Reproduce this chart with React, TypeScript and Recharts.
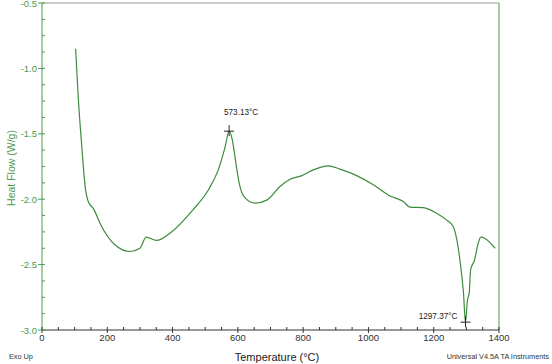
import { LineChart, Line, XAxis, YAxis, ReferenceLine, ReferenceDot } from "recharts"

// temperature (°C) and heat flow (W/g)
const temps = [
  103, 111, 122, 132, 142, 157, 183, 224, 270, 300, 319, 351, 392, 463, 509.5, 540, 561, 573.13, 583, 594,
  604, 622, 653, 690, 729, 760, 796, 831, 877, 913, 964, 1015, 1066, 1107, 1127, 1168, 1209, 1240, 1260,
  1270, 1281, 1291, 1297.37, 1303, 1309, 1313, 1325, 1335, 1344, 1357, 1388,
]
const heatFlow = [
  -0.85, -1.22, -1.6, -1.9, -2.02, -2.07, -2.21, -2.35, -2.4, -2.375, -2.29, -2.315, -2.26, -2.08, -1.93,
  -1.776, -1.6, -1.48, -1.546, -1.724, -1.877, -1.99, -2.03, -2.005, -1.903, -1.847, -1.82, -1.776, -1.745,
  -1.77, -1.82, -1.89, -1.975, -2.018, -2.06, -2.064, -2.107, -2.16, -2.21, -2.3, -2.48, -2.71, -2.94, -2.78,
  -2.71, -2.54, -2.465, -2.35, -2.29, -2.3, -2.375,
]

const xTicks = Array.from({ length: 29 }, (_, i) => i * 50)
const yTicks = Array.from({ length: 21 }, (_, i) => -3 + i * 0.125)
const xMajor = [0, 200, 400, 600, 800, 1000, 1200, 1400]
const yMajor = [-3, -2.5, -2, -1.5, -1, -0.5]

const peaks = [
  { t: 573.13, hf: -1.48, label: "573.13°C", side: "above" },
  { t: 1297.37, hf: -2.94, label: "1297.37°C", side: "left" },
]

const data = temps.map((t, i) => ({ t, hf: heatFlow[i] }))

const font = "'Liberation Sans', Arial, sans-serif"
const green = "#4f9a4f"
const lineGreen = "#3d8b3d"

function XTick({ x, y, payload }: any) {
  const major = xMajor.includes(payload.value)
  return (
    <g>
      <line x1={x} x2={x} y1={y - 3} y2={y + (major ? 3 : 0)} stroke="#333" />
      {major && (
        <text x={x} y={y + 11} textAnchor="middle" fontSize={9.5} fontFamily={font} fill="#333">
          {payload.value}
        </text>
      )}
    </g>
  )
}

function YTick({ x, y, payload }: any) {
  const major = yMajor.some((v) => Math.abs(v - payload.value) < 1e-6)
  return (
    <g>
      <line x1={x - (major ? 4 : 0)} x2={x + 3} y1={y} y2={y} stroke={green} />
      {major && (
        <text x={x - 5} y={y + 3.5} textAnchor="end" fontSize={9.5} fontFamily={font} fill={green}>
          {payload.value.toFixed(1)}
        </text>
      )}
    </g>
  )
}

function Cross({ cx, cy, label, side }: any) {
  return (
    <g>
      <line x1={cx - 5} x2={cx + 5} y1={cy} y2={cy} stroke="#222" />
      <line x1={cx} x2={cx} y1={cy - 6} y2={cy + 5} stroke="#222" />
      {side === "above" ? (
        <text x={cx + 12} y={cy - 16} textAnchor="middle" fontSize={8.2} fontFamily={font} fill="#222">
          {label}
        </text>
      ) : (
        <text x={cx - 8} y={cy - 3} textAnchor="end" fontSize={8.2} fontFamily={font} fill="#222">
          {label}
        </text>
      )}
    </g>
  )
}

export default function App() {
  return (
    <div style={{ position: "absolute", left: 0, top: 0, width: 552, height: 364, background: "#fff" }}>
      <LineChart width={552} height={364} data={data} margin={{ top: 3, right: 53, left: 0, bottom: 0 }}>
        <XAxis
          dataKey="t"
          type="number"
          domain={[0, 1400]}
          ticks={xTicks}
          interval={0}
          height={34}
          stroke="#333"
          tickLine={false}
          tickSize={0}
          tickMargin={0}
          tick={<XTick />}
        />
        <YAxis
          type="number"
          domain={[-3, -0.5]}
          ticks={yTicks}
          interval={0}
          width={42}
          stroke={green}
          tickLine={false}
          tickSize={0}
          tickMargin={0}
          tick={<YTick />}
        />
        <ReferenceLine y={-0.5} stroke="#999" />
        <ReferenceLine x={1400} stroke={green} />
        <Line
          type="monotone"
          dataKey="hf"
          stroke={lineGreen}
          strokeWidth={1.2}
          dot={false}
          isAnimationActive={false}
        />
        {peaks.map((p) => (
          <ReferenceDot
            key={p.label}
            x={p.t}
            y={p.hf}
            shape={(props: any) => <Cross {...props} label={p.label} side={p.side} />}
          />
        ))}
      </LineChart>
      <svg width={552} height={364} style={{ position: "absolute", left: 0, top: 0, pointerEvents: "none" }}>
        <text
          x={0}
          y={0}
          transform="translate(15,168) rotate(-90)"
          textAnchor="middle"
          fontSize={10.5}
          fontFamily={font}
          fill={green}
        >
          Heat Flow (W/g)
        </text>
        <text x={277} y={361} textAnchor="middle" fontSize={11} fontFamily={font} fill="#222">
          Temperature (°C)
        </text>
        <text x={9} y={359} fontSize={7.3} fontFamily={font} fill="#333">
          Exo Up
        </text>
        <text x={549} y={359} textAnchor="end" fontSize={7.3} fontFamily={font} fill="#333">
          Universal V4.5A TA Instruments
        </text>
      </svg>
    </div>
  )
}
